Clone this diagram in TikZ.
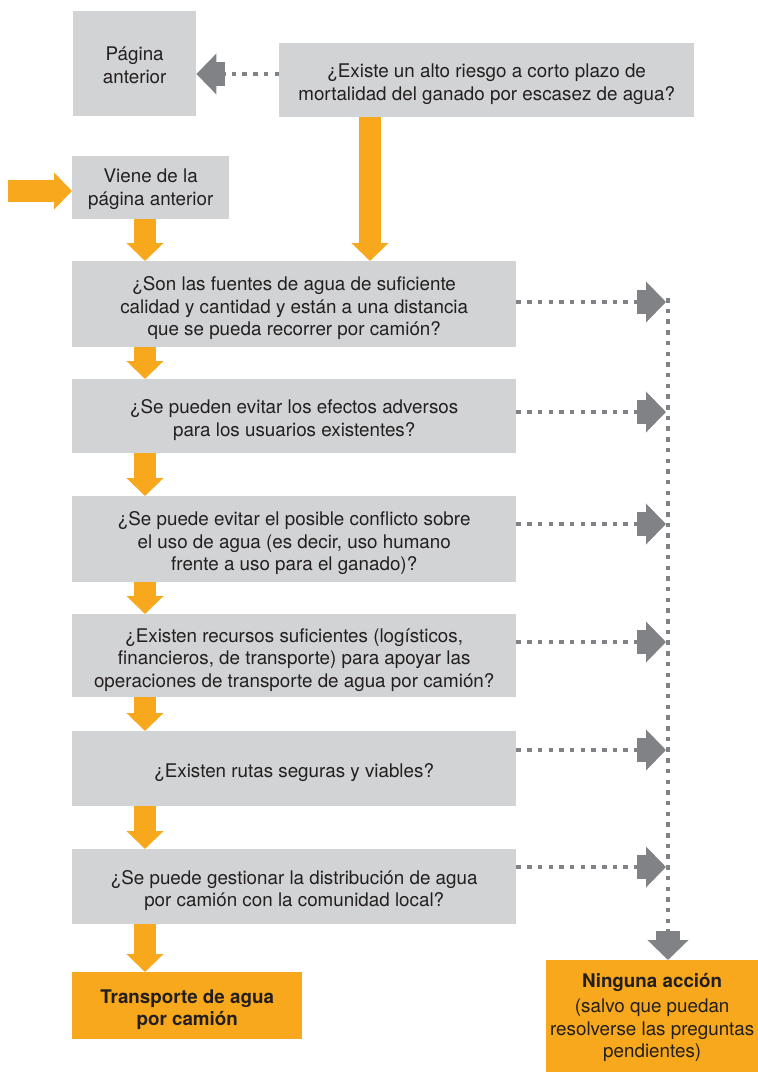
\documentclass[tikz,border=0pt]{standalone}
\usepackage{fontspec}
\setmainfont{TeX Gyre Heros}
\usetikzlibrary{arrows.meta}
\definecolor{boxgray}{HTML}{D1D3D4}
\definecolor{aorange}{HTML}{F7A81C}
\definecolor{agray}{HTML}{808285}
\definecolor{txt}{HTML}{231F20}
\newcommand\tup{\rule{0pt}{22pt}}
\newcommand\tupsmall{\rule{0pt}{17pt}}
\begin{document}
\begin{tikzpicture}[x=1pt,y=-1pt,
  qbox/.style={fill=boxgray, draw=none, anchor=north west, align=center, text=txt, inner sep=0pt,
    font=\fontsize{18.8}{22.6}\selectfont},
  obox/.style={qbox, fill=aorange},
  oarrow/.style={draw=aorange, line width=22pt, -{Triangle[width=36pt,length=18pt]}, color=aorange},
  garrow/.style={draw=agray, line width=4.5pt, dash pattern=on 4.5pt off 6.2pt,
    -{Rectangle[width=24pt,length=9pt,sep=0pt]Triangle[width=40pt,length=20pt]}, color=agray},
  gline/.style={draw=agray, line width=4.5pt, dash pattern=on 4.5pt off 6.2pt}
]
\useasboundingbox (0,0) rectangle (758,1072);

% boxes
\node[qbox, minimum width=123pt, minimum height=105pt] (prev) at (73,11) {\tupsmall Página\\anterior};
\node[qbox, minimum width=415pt, minimum height=74pt] (q0) at (279,43) {\tup¿Existe un alto riesgo a corto plazo de\\mortalidad del ganado por escasez de agua?};
\node[qbox, minimum width=157pt, minimum height=63pt] (viene) at (72,156) {\tupsmall Viene de la\\página anterior};
\node[qbox, minimum width=444pt, minimum height=86pt] (q1) at (72,261) {\tup¿Son las fuentes de agua de suficiente\\calidad y cantidad y están a una distancia\\que se pueda recorrer por camión?};
\node[qbox, minimum width=444pt, minimum height=74pt] (q2) at (72,379) {\tup¿Se pueden evitar los efectos adversos\\para los usuarios existentes?};
\node[qbox, minimum width=444pt, minimum height=86pt] (q3) at (72,496) {\tup¿Se puede evitar el posible conflicto sobre\\el uso de agua (es decir, uso humano\\frente a uso para el ganado)?};
\node[qbox, minimum width=444pt, minimum height=83pt] (q4) at (72,614) {\tup¿Existen recursos suficientes (logísticos,\\financieros, de transporte) para apoyar las\\operaciones de transporte de agua por camión?};
\node[qbox, minimum width=444pt, minimum height=75pt] (q5) at (72,731) {\tup¿Existen rutas seguras y viables?};
\node[qbox, minimum width=444pt, minimum height=75pt] (q6) at (72,849) {\tup¿Se puede gestionar la distribución de agua\\por camión con la comunidad local?};
\node[obox, minimum width=230pt, minimum height=67pt] (yes) at (72,972) {\tup\textbf{Transporte de agua}\\\textbf{por camión}};
\node[obox, minimum width=212pt, minimum height=112pt] (no) at (546,960) {\tupsmall\textbf{Ninguna acción}\\[2.5pt](salvo que puedan\\resolverse las preguntas\\pendientes)};

% helper coordinates
\coordinate (ox) at (145,0);
\coordinate (ox2) at (370,0);
\coordinate (src) at (8,191);
\coordinate (vx) at (668,0);
\coordinate (vtop) at (668,298);
\coordinate (vbot) at (668,931);
\coordinate (t1) at (666,302);
\coordinate (t2) at (666,412);
\coordinate (t3) at (666,524);
\coordinate (t4) at (666,642);
\coordinate (t5) at (666,750);
\coordinate (t6) at (666,867);

% orange arrows
\draw[oarrow] (src) -- (viene.west |- src);
\draw[oarrow] (viene.south -| ox) -- (q1.north -| ox);
\draw[oarrow] (q0.south -| ox2) -- (q1.north -| ox2);
\draw[oarrow] (q1.south -| ox) -- (q2.north -| ox);
\draw[oarrow] (q2.south -| ox) -- (q3.north -| ox);
\draw[oarrow] (q3.south -| ox) -- (q4.north -| ox);
\draw[oarrow] (q4.south -| ox) -- (q5.north -| ox);
\draw[oarrow] (q5.south -| ox) -- (q6.north -| ox);
\draw[oarrow] (q6.south -| ox) -- (yes.north -| ox);

% gray dotted arrows
\draw[gline] (vtop) -- (vbot);
\draw[garrow] (q0.west |- 0,74) -- (prev.east |- 0,74);
\draw[garrow] (q1.east |- t1) -- (t1);
\draw[garrow] (q2.east |- t2) -- (t2);
\draw[garrow] (q3.east |- t3) -- (t3);
\draw[garrow] (q4.east |- t4) -- (t4);
\draw[garrow] (q5.east |- t5) -- (t5);
\draw[garrow] (q6.east |- t6) -- (t6);
\draw[garrow, solid] (vbot) -- (no.north -| vx);
\end{tikzpicture}
\end{document}
